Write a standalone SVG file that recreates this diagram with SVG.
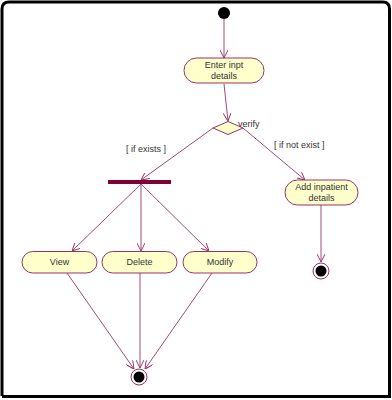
<svg xmlns="http://www.w3.org/2000/svg" width="392" height="400" viewBox="0 0 392 400">
<defs>
<style>
.node rect{fill:#ffffcc;stroke:#993366;stroke-width:1}
.node text,.lbl{font-family:"Liberation Sans",Arial,sans-serif;font-size:9px;fill:#333;text-anchor:middle}
.lbl{text-anchor:start}
.edge{stroke:#a04a7a;stroke-width:1;fill:none;marker-end:url(#ah)}
</style>
<marker id="ah" viewBox="0 0 10 10" refX="10" refY="5" markerWidth="8" markerHeight="8" markerUnits="userSpaceOnUse" orient="auto">
<path d="M0,0 L10,5 L0,10" fill="none" stroke="#993366" stroke-width="1.2"/>
</marker>
</defs>
<rect width="392" height="400" fill="#fff"/>
<path d="M2,396 V9 Q2,2 9,2 H383 Q389.5,2 389.5,9 V396.5 H2" fill="none" stroke="#000" stroke-width="3"/>
<path d="M389.5,9 V397 H2" fill="none" stroke="#000" stroke-width="1.5"/>
<g id="connectors">
<path class="edge" d="M224,19 L224,58"/>
<path class="edge" d="M224,84 L228,121"/>
<path class="edge" d="M213,128 L141,180"/>
<path class="edge" d="M243,128 L305,180"/>
<path class="edge" d="M321,205 L321,262"/>
<path class="edge" d="M141,184 L72,251"/>
<path class="edge" d="M141,184 L141,251"/>
<path class="edge" d="M141,184 L209,251"/>
<path class="edge" d="M67,273 L134,369"/>
<path class="edge" d="M140,273 L140,368"/>
<path class="edge" d="M212,273 L145,369"/>
</g>
<text class="lbl" x="238" y="127">verify</text>
<text class="lbl" x="126" y="152">[ if exists ]</text>
<text class="lbl" x="274" y="148">[ if not exist ]</text>
<g id="start"><circle cx="224" cy="13" r="6" fill="#000"/></g>
<g id="enter" class="node"><rect x="184" y="58" width="80" height="25" rx="12.5"/><text x="224" y="68">Enter inpt</text><text x="224" y="79">details</text></g>
<g id="decision"><polygon points="213,128 228,121.5 243,128 228,134.5" fill="#ffffcc" stroke="#993366"/></g>
<g id="fork"><rect x="108" y="180" width="63" height="4" fill="#800033"/></g>
<g id="addinpatient" class="node"><rect x="285" y="180" width="73" height="25" rx="12.5"/><text x="321.5" y="190">Add inpatient</text><text x="321.5" y="201">details</text></g>
<g id="end1"><circle cx="321" cy="271" r="8" fill="#fff" stroke="#993366"/><circle cx="321" cy="271" r="5.5" fill="#000"/></g>
<g id="view" class="node"><rect x="22" y="251.5" width="75" height="21.5" rx="10.75"/><text x="59.5" y="265">View</text></g>
<g id="delete" class="node"><rect x="102" y="251.5" width="75" height="21.5" rx="10.75"/><text x="139.5" y="265">Delete</text></g>
<g id="modify" class="node"><rect x="183" y="251.5" width="74" height="21.5" rx="10.75"/><text x="220" y="265">Modify</text></g>
<g id="end2"><circle cx="139" cy="377" r="8" fill="#fff" stroke="#993366"/><circle cx="139" cy="377" r="5.5" fill="#000"/></g>
</svg>
